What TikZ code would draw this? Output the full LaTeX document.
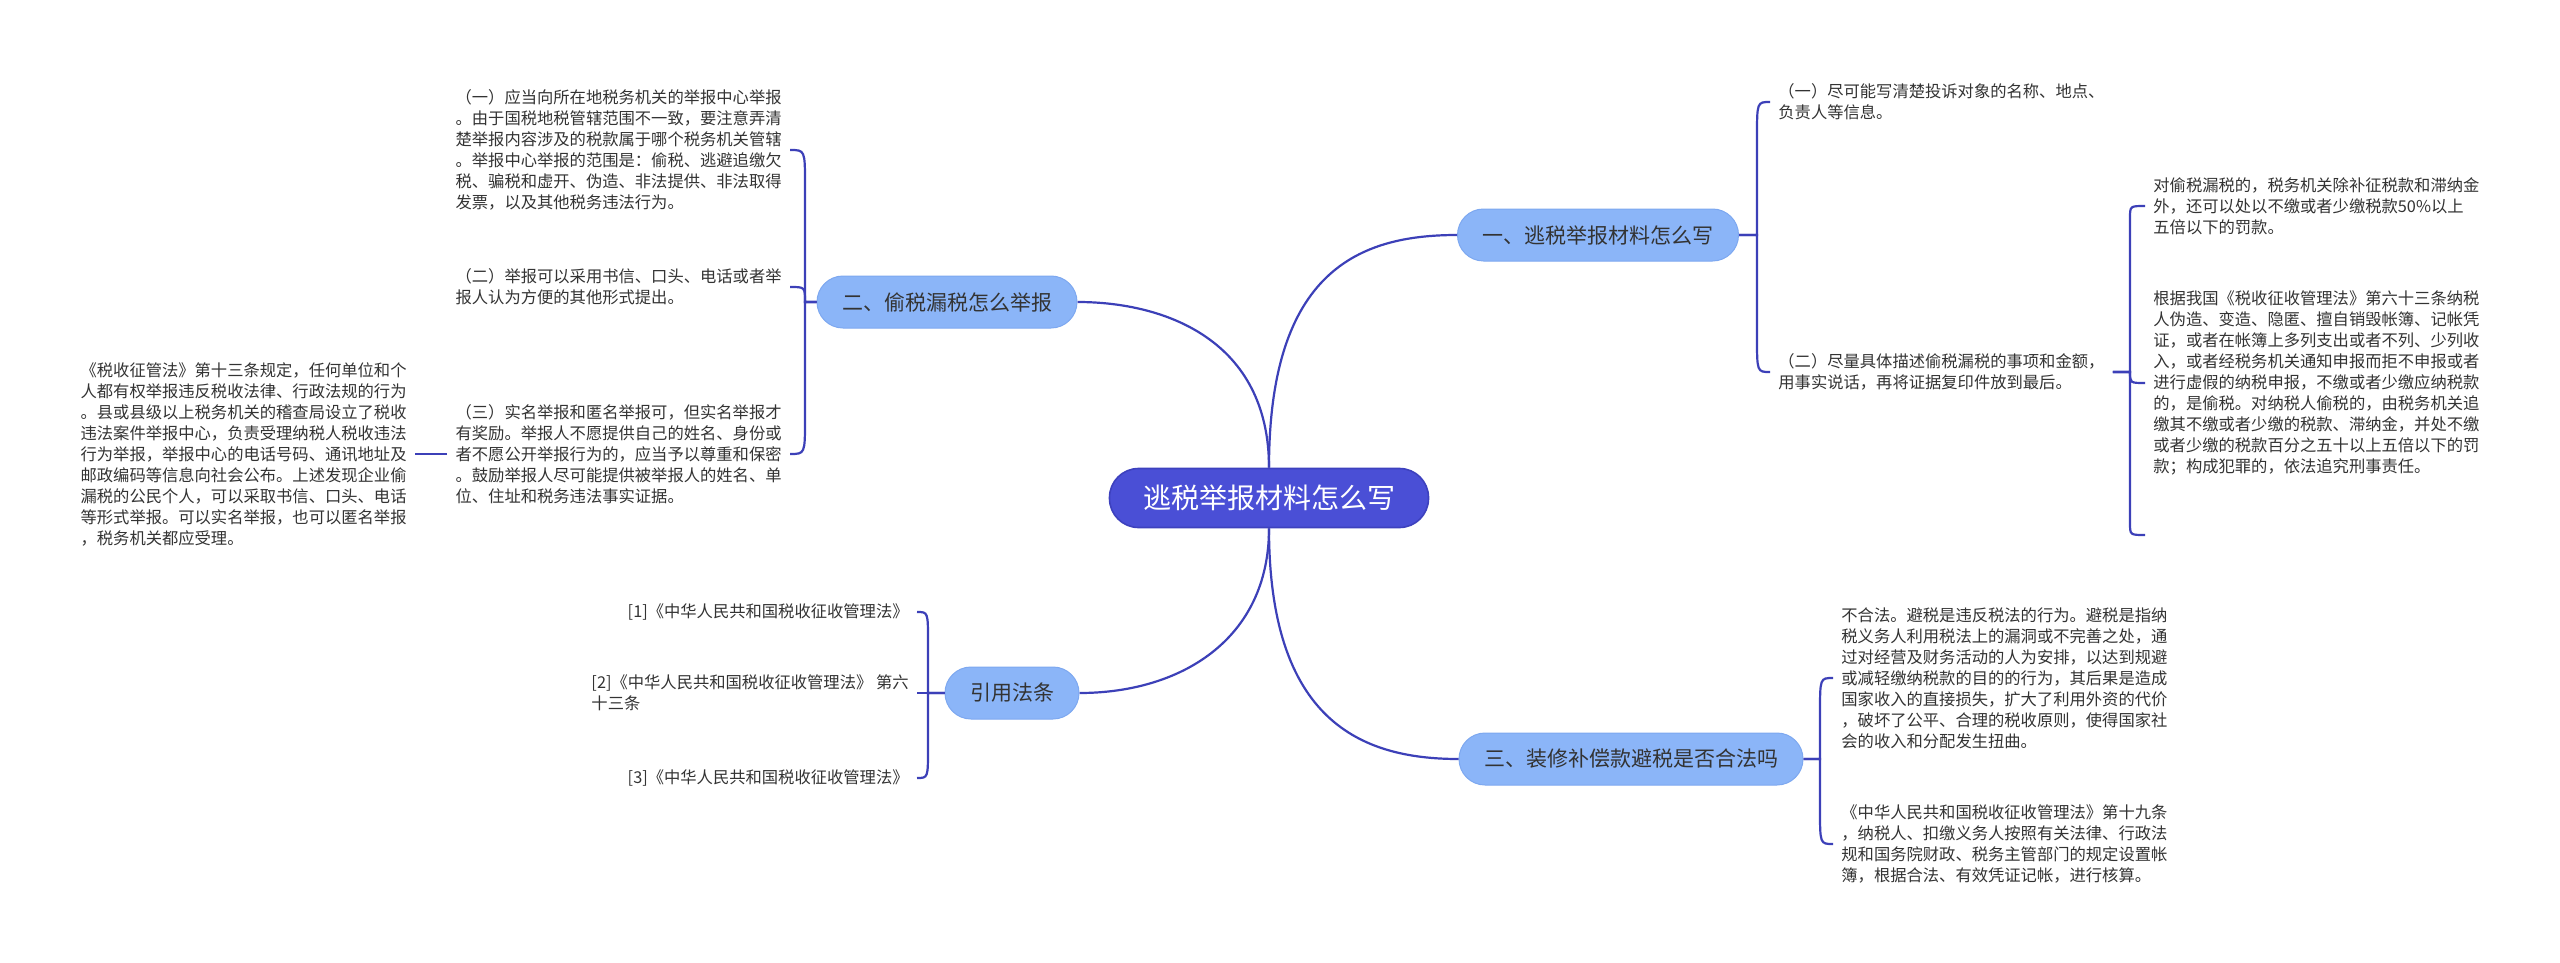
\documentclass[tikz,border=0pt]{standalone}
\usepackage{fontspec}
\newfontfamily\cjk{Noto Sans CJK SC}
\definecolor{linec}{HTML}{3C40B8}
\definecolor{mainf}{HTML}{4A4FD6}
\definecolor{mainb}{HTML}{3D41BE}
\definecolor{subf}{HTML}{8BB5F8}
\definecolor{subb}{HTML}{7DA8F0}
\definecolor{txt}{HTML}{333333}
\tikzset{
 conn/.style={draw=linec, line width=1.1pt},
 mainnode/.style={fill=mainf, draw=mainb, line width=0.8pt, rounded corners=14.5pt, minimum height=29.5pt, inner xsep=16.75pt, inner ysep=0pt, text=white, font=\cjk\fontsize{14}{16}\selectfont},
 subnode/.style={fill=subf, draw=subb, line width=0.5pt, rounded corners=13pt, minimum height=26pt, inner xsep=12.5pt, inner ysep=0pt, text=txt, font=\cjk\fontsize{10.5}{12}\selectfont},
 leaf/.style={align=left, inner xsep=4pt, inner ysep=2pt, text=txt, font=\cjk\fontsize{8.15}{10.5}\selectfont},
}
\begin{document}
\begin{tikzpicture}[x=0.5pt,y=-0.5pt]
\fill[white] (0,0) rectangle (2560,963);
\useasboundingbox (0,0) rectangle (2560,963);

% main and level-1 nodes
\node[mainnode] (C) at (1269,498) {逃税举报材料怎么写};
\node[subnode] (N1) at (1598,235) {一、逃税举报材料怎么写};
\node[subnode] (N2) at (947,302) {二、偷税漏税怎么举报};
\node[subnode] (N3) at (1631,759) {三、装修补偿款避税是否合法吗};
\node[subnode] (N4) at (1012,693) {引用法条};

\draw[conn] (C.north) .. controls (1269,270) and (1360,235) .. (N1.west);
\draw[conn] (C.north) .. controls (1269,340) and (1165,302) .. (N2.east);
\draw[conn] (C.south) .. controls (1269,720) and (1360,759) .. (N3.west);
\draw[conn] (C.south) .. controls (1269,640) and (1180,693) .. (N4.east);

% right group 1
\node[leaf, anchor=west] (R1) at (1770,102) {（一）尽可能写清楚投诉对象的名称、地点、\\负责人等信息。};
\node[leaf, anchor=west] (R2) at (1770,372) {（二）尽量具体描述偷税漏税的事项和金额，\\用事实说话，再将证据复印件放到最后。};
\node[leaf, anchor=west] (R2a) at (2145,206) {对偷税漏税的，税务机关除补征税款和滞纳金\\外，还可以处以不缴或者少缴税款50\%以上\\五倍以下的罚款。};
\node[leaf, anchor=west] (R2b) at (2145,383) {根据我国《税收征收管理法》第六十三条纳税\\人伪造、变造、隐匿、擅自销毁帐簿、记帐凭\\证，或者在帐簿上多列支出或者不列、少列收\\入，或者经税务机关通知申报而拒不申报或者\\进行虚假的纳税申报，不缴或者少缴应纳税款\\的，是偷税。对纳税人偷税的，由税务机关追\\缴其不缴或者少缴的税款、滞纳金，并处不缴\\或者少缴的税款百分之五十以上五倍以下的罚\\款；构成犯罪的，依法追究刑事责任。};
\coordinate (R2c) at (2145,535);

\draw[conn] (N1.east) -- (1757,235) -- (1757,137) .. controls (1757,102) .. (R1.west);
\draw[conn] (N1.east) -- (1757,235) -- (1757,337) .. controls (1757,372) .. (R2.west);
\draw[conn] (R2.east) -- (2130,372) -- (2130,218) .. controls (2130,206) .. (R2a.west);
\draw[conn] (R2.east) -- (2130,372) .. controls (2130,383) .. (R2b.west);
\draw[conn] (R2.east) -- (2130,372) -- (2130,523) .. controls (2130,535) .. (R2c);

% left group 2
\node[leaf, anchor=east] (L1) at (790,150) {（一）应当向所在地税务机关的举报中心举报\\。由于国税地税管辖范围不一致，要注意弄清\\楚举报内容涉及的税款属于哪个税务机关管辖\\。举报中心举报的范围是：偷税、逃避追缴欠\\税、骗税和虚开、伪造、非法提供、非法取得\\发票，以及其他税务违法行为。};
\node[leaf, anchor=east] (L2) at (790,287) {（二）举报可以采用书信、口头、电话或者举\\报人认为方便的其他形式提出。};
\node[leaf, anchor=east] (L3) at (790,454) {（三）实名举报和匿名举报可，但实名举报才\\有奖励。举报人不愿提供自己的姓名、身份或\\者不愿公开举报行为的，应当予以尊重和保密\\。鼓励举报人尽可能提供被举报人的姓名、单\\位、住址和税务违法事实证据。};
\node[leaf, anchor=east] (L3a) at (415,454) {《税收征管法》第十三条规定，任何单位和个\\人都有权举报违反税收法律、行政法规的行为\\。县或县级以上税务机关的稽查局设立了税收\\违法案件举报中心，负责受理纳税人税收违法\\行为举报，举报中心的电话号码、通讯地址及\\邮政编码等信息向社会公布。上述发现企业偷\\漏税的公民个人，可以采取书信、口头、电话\\等形式举报。可以实名举报，也可以匿名举报\\，税务机关都应受理。};

\draw[conn] (N2.west) -- (805,302) -- (805,185) .. controls (805,150) .. (L1.east);
\draw[conn] (N2.west) -- (805,302) .. controls (805,287) .. (L2.east);
\draw[conn] (N2.west) -- (805,302) -- (805,419) .. controls (805,454) .. (L3.east);
\draw[conn] (L3.west) -- (L3a.east);

% left group 4
\node[leaf, anchor=east] (Q1) at (917,612) {[1]《中华人民共和国税收征收管理法》};
\node[leaf, anchor=east] (Q2) at (917,693) {[2]《中华人民共和国税收征收管理法》 第六\\十三条};
\node[leaf, anchor=east] (Q3) at (917,778) {[3]《中华人民共和国税收征收管理法》};

\draw[conn] (N4.west) -- (928,693) -- (928,642) .. controls (928,612) .. (Q1.east);
\draw[conn] (N4.west) -- (Q2.east);
\draw[conn] (N4.west) -- (928,693) -- (928,748) .. controls (928,778) .. (Q3.east);

% right group 3
\node[leaf, anchor=west] (T1) at (1833,678) {不合法。避税是违反税法的行为。避税是指纳\\税义务人利用税法上的漏洞或不完善之处，通\\过对经营及财务活动的人为安排，以达到规避\\或减轻缴纳税款的目的的行为，其后果是造成\\国家收入的直接损失，扩大了利用外资的代价\\，破坏了公平、合理的税收原则，使得国家社\\会的收入和分配发生扭曲。};
\node[leaf, anchor=west] (T2) at (1833,844) {《中华人民共和国税收征收管理法》第十九条\\，纳税人、扣缴义务人按照有关法律、行政法\\规和国务院财政、税务主管部门的规定设置帐\\簿，根据合法、有效凭证记帐，进行核算。};

\draw[conn] (N3.east) -- (1820,759) -- (1820,713) .. controls (1820,678) .. (T1.west);
\draw[conn] (N3.east) -- (1820,759) -- (1820,809) .. controls (1820,844) .. (T2.west);
\end{tikzpicture}
\end{document}
